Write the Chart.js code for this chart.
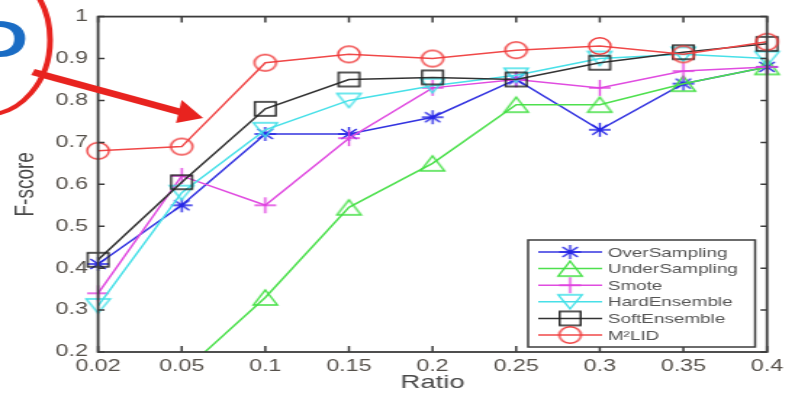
<!DOCTYPE html>
<html>
<head>
<meta charset="utf-8">
<script src="https://cdn.jsdelivr.net/npm/chart.js@4.4.0/dist/chart.umd.min.js"></script>
<style>
  html, body { margin: 0; padding: 0; background: #fff; overflow: hidden; }
  /* the source figure is a matlab plot stretched wide, so draw it narrow and stretch it */
  #wrap { width: 548px; height: 394px; position: relative; transform: scaleX(1.45073); transform-origin: 0 0; }
</style>
</head>
<body>
<div id="wrap"><canvas id="chart"></canvas></div>
<script>
// data
const ratios = ['0.02', '0.05', '0.1', '0.15', '0.2', '0.25', '0.3', '0.35', '0.4'];
const overSampling  = [0.41, 0.55, 0.72, 0.72, 0.76, 0.85, 0.73, 0.84, 0.88];
const underSampling = [0.10, 0.15, 0.33, 0.545, 0.65, 0.79, 0.79, 0.84, 0.88];
const smote         = [0.34, 0.62, 0.55, 0.71, 0.83, 0.85, 0.83, 0.87, 0.88];
const hardEnsemble  = [0.31, 0.58, 0.73, 0.80, 0.835, 0.86, 0.90, 0.91, 0.90];
const softEnsemble  = [0.42, 0.605, 0.78, 0.85, 0.855, 0.85, 0.89, 0.915, 0.935];
const m2lid         = [0.68, 0.69, 0.89, 0.91, 0.90, 0.92, 0.93, 0.91, 0.94];
const yTicks = [0.2, 0.3, 0.4, 0.5, 0.6, 0.7, 0.8, 0.9, 1];

const FONT = "'Liberation Sans', Arial, Helvetica, sans-serif";

// matlab-like markers
function marker(kind, color, w, h) {
    const c = document.createElement('canvas');
    c.width = w + 4; c.height = h + 4;
    const g = c.getContext('2d');
    g.strokeStyle = color;
    g.lineWidth = 1.4;
    const cx = c.width / 2, cy = c.height / 2, rx = w / 2, ry = h / 2;
    g.beginPath();
    if (kind === 'circle') {
        g.ellipse(cx, cy, rx, ry, 0, 0, Math.PI * 2);
    } else if (kind === 'square') {
        g.rect(cx - rx, cy - ry, w, h);
    } else if (kind === 'triUp') {
        g.moveTo(cx, cy - ry); g.lineTo(cx + rx, cy + ry); g.lineTo(cx - rx, cy + ry); g.closePath();
    } else if (kind === 'triDown') {
        g.moveTo(cx, cy + ry); g.lineTo(cx + rx, cy - ry); g.lineTo(cx - rx, cy - ry); g.closePath();
    } else if (kind === 'plus') {
        g.moveTo(cx - rx, cy); g.lineTo(cx + rx, cy);
        g.moveTo(cx, cy - ry); g.lineTo(cx, cy + ry);
    } else if (kind === 'star') {
        g.moveTo(cx - rx, cy); g.lineTo(cx + rx, cy);
        g.moveTo(cx, cy - ry); g.lineTo(cx, cy + ry);
        g.moveTo(cx - rx * 0.7, cy - ry * 0.7); g.lineTo(cx + rx * 0.7, cy + ry * 0.7);
        g.moveTo(cx - rx * 0.7, cy + ry * 0.7); g.lineTo(cx + rx * 0.7, cy - ry * 0.7);
    }
    g.stroke();
    return c;
}

function series(label, data, color, mk, order) {
    return {
        label: label,
        data: data,
        borderColor: color,
        borderWidth: 1.5,
        pointStyle: mk,
        pointRadius: 10,
        tension: 0,
        order: order,
        clip: { left: 12, right: 12, top: 12, bottom: 0 }
    };
}

const datasets = [
    series('OverSampling', overSampling, '#3434e0', marker('star', '#2626e6', 15, 14), 5),
    series('UnderSampling', underSampling, '#4ee04e', marker('triUp', '#44e044', 16.5, 15), 4),
    series('Smote', smote, '#e04ce0', marker('plus', '#e040e0', 15, 16), 3),
    series('HardEnsemble', hardEnsemble, '#48e0e8', marker('triDown', '#40e0e8', 16.5, 14), 2),
    series('SoftEnsemble', softEnsemble, '#333333', marker('square', '#222222', 14.5, 14), 1),
    series('M\u00B2LID', m2lid, '#f04848', marker('circle', '#f03c3c', 15, 16.5), 0)
];

// box, inward ticks, legend inside the axes, and the red annotation
const decorations = {
    id: 'decorations',
    afterDraw(chart) {
        const ctx = chart.ctx;
        const a = chart.chartArea;
        const xs = chart.scales.x, ys = chart.scales.y;
        ctx.save();
        ctx.strokeStyle = '#3c3c3c';
        ctx.lineWidth = 1.5;
        ctx.beginPath();
        xs.ticks.forEach((t, i) => {
            const px = xs.getPixelForTick(i);
            ctx.moveTo(px, a.bottom); ctx.lineTo(px, a.bottom - 6);
            ctx.moveTo(px, a.top); ctx.lineTo(px, a.top + 6);
        });
        ys.ticks.forEach((t, i) => {
            const py = ys.getPixelForTick(i);
            ctx.moveTo(a.left, py); ctx.lineTo(a.left + 4.5, py);
            ctx.moveTo(a.right, py); ctx.lineTo(a.right - 4.5, py);
        });
        ctx.stroke();
        ctx.lineWidth = 1.8;
        ctx.strokeRect(a.left, a.top, a.right - a.left, a.bottom - a.top);

        // legend
        const lx = 364, ly = 240, lw = 156.5, lh = 107;
        ctx.fillStyle = '#fff';
        ctx.fillRect(lx, ly, lw, lh);
        ctx.lineWidth = 1.5;
        ctx.strokeStyle = '#3c3c3c';
        ctx.strokeRect(lx, ly, lw, lh);
        chart.data.datasets.forEach((ds, i) => {
            const y = 252 + i * 16.6;
            ctx.strokeStyle = ds.borderColor;
            ctx.lineWidth = 1.5;
            ctx.beginPath();
            ctx.moveTo(371, y); ctx.lineTo(415, y);
            ctx.stroke();
            const img = ds.pointStyle;
            ctx.drawImage(img, 393 - img.width / 2, y - img.height / 2);
            ctx.fillStyle = '#555';
            ctx.font = '13px ' + FONT;
            ctx.textAlign = 'left';
            ctx.textBaseline = 'middle';
            ctx.fillText(ds.label, 419, y + 1);
        });

        // annotation: circled letter and arrow
        ctx.strokeStyle = '#e8231f';
        ctx.lineWidth = 4;
        ctx.beginPath();
        ctx.ellipse(-10.3, 40, 44.8, 75, 0, 0, Math.PI * 2);
        ctx.stroke();
        ctx.fillStyle = '#1a6cc4';
        ctx.font = 'bold 52px ' + FONT;
        ctx.textAlign = 'right';
        ctx.textBaseline = 'alphabetic';
        ctx.fillText('D', 19.5, 57);
        ctx.lineWidth = 6.5;
        ctx.beginPath();
        ctx.moveTo(22.7, 72); ctx.lineTo(125.5, 112.5);
        ctx.stroke();
        ctx.fillStyle = '#e8231f';
        ctx.beginPath();
        ctx.moveTo(140, 118); ctx.lineTo(125.2, 100); ctx.lineTo(121.3, 123);
        ctx.closePath();
        ctx.fill();
        ctx.restore();
    }
};

new Chart(document.getElementById('chart'), {
    type: 'line',
    data: { labels: ratios, datasets: datasets },
    options: {
        responsive: true,
        maintainAspectRatio: false,
        animation: false,
        devicePixelRatio: 1,
        layout: { padding: { left: 0, right: 19.3, top: 15, bottom: 0 } },
        plugins: { legend: { display: false }, tooltip: { enabled: false } },
        scales: {
            x: {
                type: 'category',
                offset: false,
                grid: { display: false, drawTicks: false },
                border: { display: false },
                ticks: { color: '#55504a', font: { family: FONT, size: 16 }, padding: 5, maxRotation: 0, autoSkip: false },
                title: { display: true, text: 'Ratio', color: '#484848', font: { family: FONT, size: 19 }, padding: { top: 0, bottom: 0 } },
                afterFit(s) { s.height = 42; }
            },
            y: {
                min: 0.2,
                max: 1,
                grid: { display: false, drawTicks: false },
                border: { display: false },
                afterBuildTicks(s) { s.ticks = yTicks.map(v => ({ value: v })); },
                ticks: {
                    color: '#55504a',
                    font: { family: FONT, size: 16 },
                    padding: 7,
                    callback: v => String(Number(v.toFixed(1)))
                },
                title: { display: true, text: 'F-score', color: '#484848', font: { family: FONT, size: 19 }, padding: { top: 6, bottom: 0 } },
                afterFit(s) { s.width = 67.6; }
            }
        }
    },
    plugins: [decorations]
});
</script>
</body>
</html>
